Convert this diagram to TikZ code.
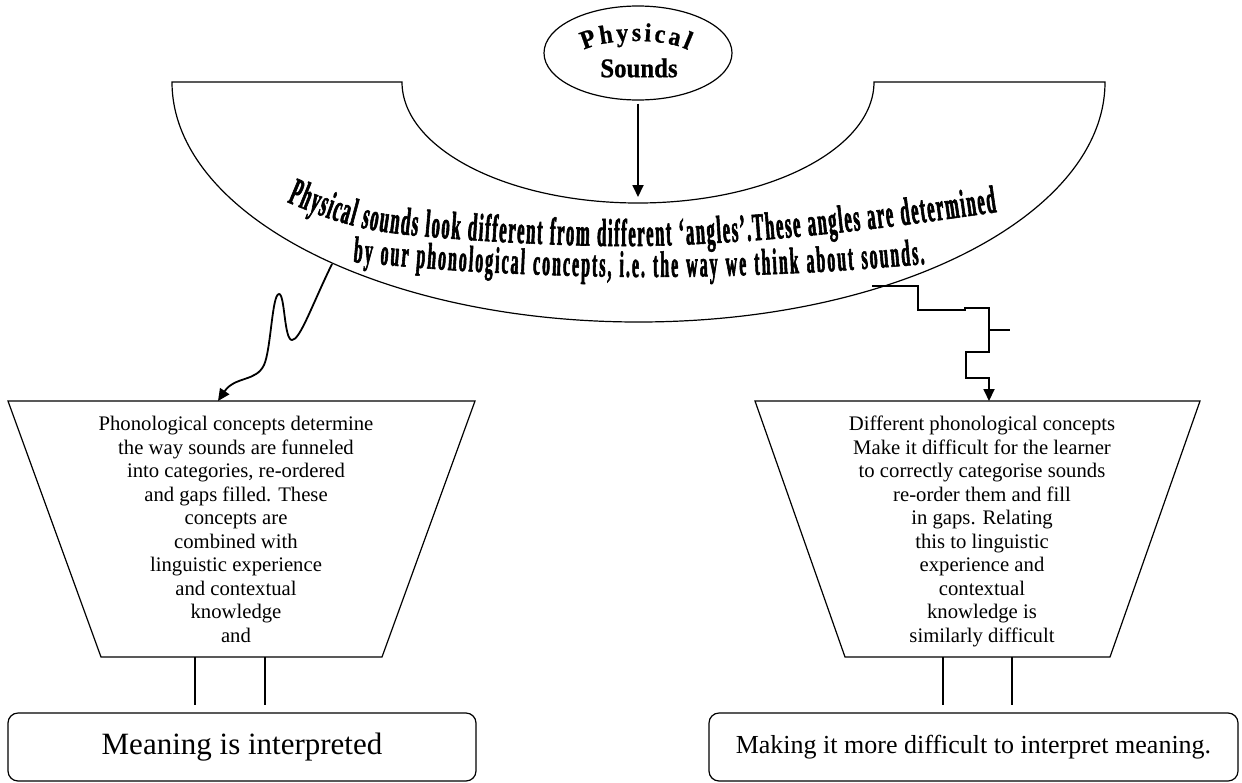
\documentclass[tikz,border=0pt]{standalone}
\usepackage{fontspec}
\setmainfont{Liberation Serif}
\newfontfamily\archfont[FakeStretch=0.43,FakeBold=1.5]{Liberation Serif}
\newfontfamily\capfont[FakeStretch=0.92,FakeBold=0.8]{Liberation Serif}
\usetikzlibrary{arrows.meta,decorations.text,shapes.geometric}

\begin{document}
\begin{tikzpicture}[x=1pt, y=-1pt,
  shapeline/.style={line width=1.2pt},
  conn/.style={line width=1.8pt, -{Triangle[length=12pt,width=11pt]}},
  link/.style={line width=1.2pt},
  result/.style={draw, line width=1.2pt, rounded corners=10pt, minimum height=68pt},
  funneltext/.style={align=center, inner sep=0pt, anchor=north, font=\fontsize{20.7}{23.5}\selectfont}]
\useasboundingbox (0,0) rectangle (1242,782);

% Arch shape under the sounds
\draw[shapeline, fill=white] (172,82) -- (402,82)
  arc[start angle=180, end angle=0, x radius=236, y radius=121]
  -- (1105,82)
  arc[start angle=0, end angle=180, x radius=466.5, y radius=240] -- cycle;

% Physical sounds
\node[ellipse, draw, line width=1.2pt, fill=white, minimum width=188pt, minimum height=94pt, inner sep=0pt] (phys) at (638,53) {};
\path[decorate, decoration={text along path, text align={fit to path},
  text={|\capfont\bfseries\fontsize{26}{26}\selectfont|Physical}}]
  (584,50) .. controls (606,38) and (664,38) .. (688,50);
\node[font=\capfont\bfseries\fontsize{27}{27}\selectfont, inner sep=0pt] (sounds) at (639,68) {Sounds};

\coordinate (dip) at (638,203);
\draw[conn, shorten <=3pt, shorten >=6pt] (phys) -- (dip);

% Arched text
\path[decorate, decoration={text along path, text align={fit to path},
  text={|\archfont\bfseries\fontsize{39}{39}\selectfont|Physical sounds look different from different ‘angles’.These angles are determined}}]
  plot[smooth, tension=0.6] coordinates {(287,202) (340,222) (400,234) (520,243) (640,246) (760,240) (880,228) (997,212)};
\path[decorate, decoration={text along path, text align={fit to path},
  text={|\archfont\bfseries\fontsize{37}{37}\selectfont|by our phonological concepts, i.e. the way we think about sounds.}}]
  plot[smooth, tension=0.6] coordinates {(353,262) (480,272) (640,277) (800,273) (925,264)};

% Funnels
\draw[shapeline] (8,401) -- (475,401) -- (382,657) -- (101,657) -- cycle;
\node[funneltext] (ltext) at (236,416) {Phonological concepts determine\\the way sounds are funneled\\into categories, re-ordered\\and gaps filled. These\\concepts are\\combined with\\linguistic experience\\and contextual\\knowledge\\and};

\draw[shapeline] (755,401) -- (1200,401) -- (1110,657) -- (845,657) -- cycle;
\node[funneltext] (rtext) at (982,416) {Different phonological concepts\\Make it difficult for the learner\\to correctly categorise sounds\\re-order them and fill\\in gaps. Relating\\this to linguistic\\experience and\\contextual\\knowledge is\\similarly difficult};

% Results
\node[result, minimum width=468pt, font=\fontsize{31}{31}\selectfont] (lres) at (242,747) {Meaning is interpreted};
\node[result, minimum width=529pt, font=\fontsize{26}{26}\selectfont] (rres) at (973.5,747) {Making it more difficult to interpret meaning.};

\coordinate (la) at (195,657);
\coordinate (lb) at (265,657);
\coordinate (ra) at (943,657);
\coordinate (rb) at (1012,657);
\draw[link, shorten >=7pt] (la) -- (la |- lres.north);
\draw[link, shorten >=7pt] (lb) -- (lb |- lres.north);
\draw[link, shorten >=7pt] (ra) -- (ra |- rres.north);
\draw[link, shorten >=7pt] (rb) -- (rb |- rres.north);

% Connectors into the funnels
\coordinate (wave) at (332,264);
\coordinate (lin) at (218,401);
\draw[conn] (wave) .. controls (312,305) and (300,340) .. (292,340)
  .. controls (284,340) and (285,294) .. (279,294)
  .. controls (272,294) and (271,350) .. (264,365)
  .. controls (256,382) and (235,376) .. (lin);

\coordinate (step) at (872,286);
\coordinate (rin) at (989,401);
\draw[conn] (step) -- (918,286) -- (918,310) -- (965,310) -- (965,308) -- (989,308)
  -- (989,352) -- (966,352) -- (966,378) -- (989,378) -- (rin);
\draw[line width=2.5pt] (989,330) -- (1010,330);
\end{tikzpicture}
\end{document}
